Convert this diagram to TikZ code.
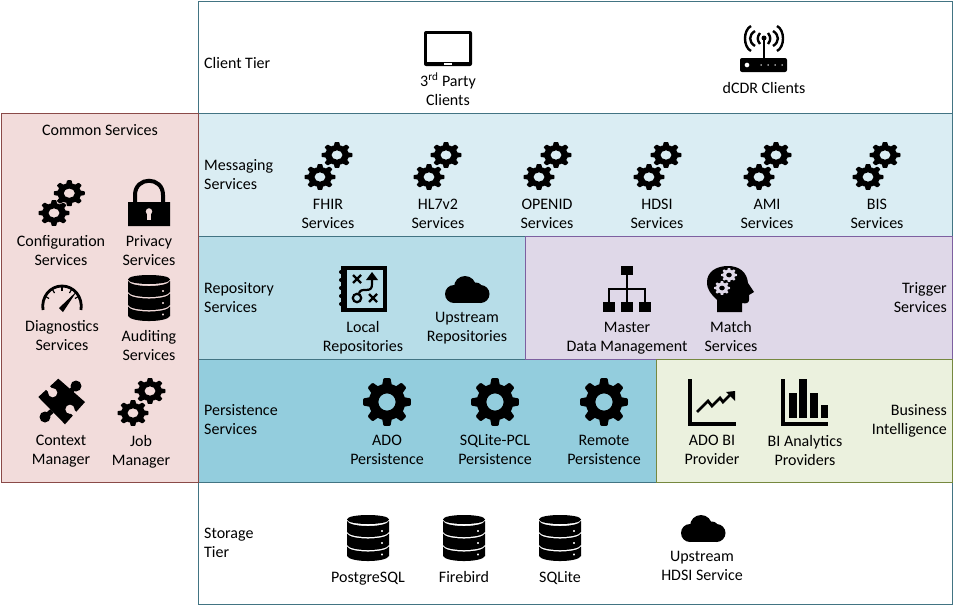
\documentclass[tikz,border=0pt]{standalone}
\usepackage{fontspec}
\setmainfont{Carlito}
\usepackage{tikz}
\definecolor{msgfill}{HTML}{DAEDF3}
\definecolor{repofill}{HTML}{B7DDE8}
\definecolor{persfill}{HTML}{93CDDD}
\definecolor{trigfill}{HTML}{DFD8E8}
\definecolor{bifill}{HTML}{EBF1DE}
\definecolor{commonfill}{HTML}{F2DCDB}
\definecolor{tieredge}{HTML}{427483}
\definecolor{trigedge}{HTML}{7D60A0}
\definecolor{biedge}{HTML}{76883F}
\definecolor{commonedge}{HTML}{8A4A48}
\tikzset{
    declare function={gearr(\a)=0.88+0.12*max(-1,min(1,2.5*cos(8*\a)));},
    gearicon/.pic = {
        \fill[even odd rule] plot[smooth, samples=121, domain=0:360] (\x:{gearr(\x)}) -- cycle (0,0) circle (0.36);
    },
    twogears/.pic = {
        \pic[xscale=15.5, yscale=13] at (0,0) {gearicon};
        \pic[xscale=15.5, yscale=13] at (17,-22) {gearicon};
    },
    cloudicon/.pic = {
        \fill (11,18) circle (9);
        \fill (22,11) circle (11);
        \fill (33,13) circle (6.5);
        \fill (37.5,18) circle (9);
        \fill (11,16) rectangle (37.5,27);
    },
    dbicon/.pic = {
        \fill (0,4.5) .. controls (0,-1.5) and (42,-1.5) .. (42,4.5) .. controls (42,10.5) and (0,10.5) .. (0,4.5);
        \fill[even odd rule] (0,6) .. controls (3,12.7) and (39,12.7) .. (42,6) -- (42,17) .. controls (39,23.7) and (3,23.7) .. (0,17) -- cycle (35,16) circle (1.4);
        \fill[even odd rule] (0,18.5) .. controls (3,25.2) and (39,25.2) .. (42,18.5) -- (42,30) .. controls (39,36.7) and (3,36.7) .. (0,30) -- cycle (35,28) circle (1.4);
        \fill[even odd rule] (0,31.5) .. controls (3,38.2) and (39,38.2) .. (42,31.5) -- (42,41) .. controls (39,47.7) and (3,47.7) .. (0,41) -- cycle (35,39.5) circle (1.4);
    }
}
\begin{document}
\begin{tikzpicture}[x=1pt, y=-1pt, font=\fontsize{16}{19}\selectfont,
    lbl/.style = {align=center, inner sep=0pt, yshift=-2.5pt, execute at begin node=\strut, execute at end node=\strut},
    side/.style = {lbl, align=left, anchor=west},
    sider/.style = {lbl, align=right, anchor=east},
    tier/.style = {draw=tieredge, line width=1pt}]
    \useasboundingbox (0,0) rectangle (956,605);
    \draw[tier, fill=white] (198,1) rectangle (952,113.5);
    \draw[tier, fill=msgfill] (198,113.5) rectangle (952,236);
    \draw[tier, fill=repofill] (198,236) rectangle (525,359);
    \draw[tier, fill=persfill] (198,359) rectangle (656,482);
    \draw[tier, fill=white] (198,482) rectangle (952,604);
    \draw[line width=1pt, draw=trigedge, fill=trigfill] (525,236) rectangle (952,359);
    \draw[line width=1pt, draw=biedge, fill=bifill] (656,359) rectangle (952,482);
    \draw[line width=1pt, draw=commonedge, fill=commonfill] (1,113.5) rectangle (198,482);
    \node[side] (client) at (204,62) {Client Tier};
    \node[side] (messaging) at (204,175) {Messaging\\Services};
    \node[side] (repository) at (204,298) {Repository\\Services};
    \node[side] (persistence) at (204,420) {Persistence\\Services};
    \node[side] (storage) at (204,543) {Storage\\Tier};
    \node[sider] (trigger) at (947,298) {Trigger\\Services};
    \node[sider] (business) at (947,420) {Business\\Intelligence};
    \node[lbl] (common) at (100,129) {Common Services};
    \node[lbl] (party) at (448,89.5) {3\textsuperscript{rd} Party\\Clients};
    \node[lbl] (dcdr) at (764,87) {dCDR Clients};
    \node[lbl] (fhir) at (328,214) {FHIR\\Services};
    \node[lbl] (hl7) at (438,214) {HL7v2\\Services};
    \node[lbl] (openid) at (547,214) {OPENID\\Services};
    \node[lbl] (hdsi) at (657,214) {HDSI\\Services};
    \node[lbl] (ami) at (767,214) {AMI\\Services};
    \node[lbl] (bis) at (877,214) {BIS\\Services};
    \node[lbl] (config) at (61,251) {Configuration\\Services};
    \node[lbl] (privacy) at (149,251) {Privacy\\Services};
    \node[lbl] (diag) at (62,336) {Diagnostics\\Services};
    \node[lbl] (audit) at (149,346) {Auditing\\Services};
    \node[lbl] (context) at (61,450) {Context\\Manager};
    \node[lbl] (job) at (141,451) {Job\\Manager};
    \node[lbl] (local) at (363,337) {Local\\Repositories};
    \node[lbl] (upstream) at (467,327) {Upstream\\Repositories};
    \node[lbl] (master) at (627,337) {Master\\Data Management};
    \node[lbl] (match) at (731,337) {Match\\Services};
    \node[lbl] (ado) at (387,450) {ADO\\Persistence};
    \node[lbl] (sqlitepcl) at (495,450) {SQLite-PCL\\Persistence};
    \node[lbl] (remote) at (604,450) {Remote\\Persistence};
    \node[lbl] (adobi) at (712,450) {ADO BI\\Provider};
    \node[lbl] (bian) at (805,451) {BI Analytics\\Providers};
    \node[lbl] (postgres) at (368,576.5) {PostgreSQL};
    \node[lbl] (firebird) at (464,576.5) {Firebird};
    \node[lbl] (sqlite) at (560,576.5) {SQLite};
    \node[lbl] (hdsisvc) at (702,566) {Upstream\\HDSI Service};
    \foreach \gx in {320,429,539,649,759,868}
        \pic at (\gx,177) {twogears};
    \pic[scale=0.9] at (54,213) {twogears};
    \pic at (133,413) {twogears};
    \foreach \gx in {387,495,604}
        \pic[scale=24] at (\gx,402) {gearicon};
    \pic at (128,275) {dbicon};
    \foreach \dx in {347,443,539}
        \pic at (\dx,515) {dbicon};
    \pic at (443,276) {cloudicon};
    \pic at (679,515) {cloudicon};
    \fill[rounded corners=2pt] (424,31) rectangle (472,66);
    \fill[white] (427,34) rectangle (469,62);
    \fill[white] (444,63) rectangle (452,65);
    \fill[even odd rule, rounded corners=2pt] (740,58) rectangle (787,72) (747,65) circle (2.5) (761,65) circle (1) (768,65) circle (1) (775,65) circle (1) (782,65) circle (1);
    \draw[line width=2.2pt] (764,38) -- (764,58);
    \fill (764,38) circle (2.5);
    \foreach \ax/\ay/\ad in {760/33/3, 755/31/6.5, 751/26/8} {
        \draw[line width=2.4pt] (\ax,\ay) .. controls ({\ax-\ad},{\ay+4}) and ({\ax-\ad},{73-\ay}) .. (\ax,{77-\ay});
        \draw[line width=2.4pt] ({1528-\ax},\ay) .. controls ({1528-\ax+\ad},{\ay+4}) and ({1528-\ax+\ad},{73-\ay}) .. ({1528-\ax},{77-\ay});
    }
    \fill[even odd rule] (128,202) rectangle (170,226) (149,211.5) circle (3.4);
    \fill[commonfill] (147.2,212) rectangle (150.8,220);
    \draw[line width=4pt] (135,202) -- (135,195) .. controls (135,176) and (163,176) .. (163,195) -- (163,202);
    \draw[line width=2.8pt] (43,310) .. controls (41,297) and (50,286) .. (62,286) .. controls (74,286) and (83,297) .. (81,310);
    \foreach \a in {30,60,90,120,150}
        \draw[line width=1.2pt, shift={(62,306)}] (-\a:15) -- (-\a:19);
    \fill (59,308) -- (77,291) -- (63,312) -- cycle;
    \fill (58.3,378.7) -- (85,402) -- (65,424.3) -- (38.3,397) -- cycle;
    \fill (76,386) circle (5.5);
    \fill (45,417) circle (5.5);
    \draw[line width=5pt] (76,386) -- (70,392);
    \draw[line width=5pt] (45,417) -- (52,411);
    \fill[commonfill] (52.7,392.7) circle (4.6);
    \draw[commonfill, line width=5pt] (52.7,392.7) -- (46,386);
    \fill[commonfill] (70,409.3) circle (4.6);
    \draw[commonfill, line width=5pt] (70,409.3) -- (77,416);
    \fill (341,266) rectangle (387,312);
    \fill[repofill] (347,270) rectangle (383,308);
    \foreach \sy in {272,280,288,296,304}
        \fill (341,\sy) circle (2);
    \draw[line width=2.4pt] (353,275) -- (361,283) (353,283) -- (361,275);
    \draw[line width=2.4pt] (369,294) -- (377,302) (369,302) -- (377,294);
    \draw[line width=2.2pt] (357,298) circle (4.2);
    \draw[line width=2.2pt] (359,293.5) .. controls (360,290) and (362,290) .. (366,290) .. controls (371,290) and (372,288) .. (372,284) -- (372,276);
    \fill (372,272) -- (378,280) -- (366,280) -- cycle;
    \fill (621,266) rectangle (633,275);
    \fill (603,302) rectangle (615,312);
    \fill (621,302) rectangle (633,312);
    \fill (639,302) rectangle (651,312);
    \draw[line width=1.6pt] (627,275) -- (627,302);
    \draw[line width=1.6pt] (609,302) -- (609,289) -- (645,289) -- (645,302);
    \fill (717,312) -- (717,300) .. controls (711,294) and (707,290) .. (707,282) .. controls (707,272) and (716,266) .. (728,266) .. controls (739,266) and (747,272) .. (748,283) -- (754,292) -- (749,295) -- (749,300) .. controls (749,303) and (746,304) .. (742,303) -- (742,312) -- cycle;
    \pic[xscale=8, yscale=7, fill=trigfill] at (729,275) {gearicon};
    \pic[xscale=8, yscale=7, fill=trigfill] at (722,288) {gearicon};
    \draw[line width=3.4pt] (690,379) -- (690,424) -- (736,424);
    \draw[line width=2.8pt] (697,412) -- (708,401) -- (712,406) -- (720,398) -- (723,402) -- (731,394);
    \fill (735,391) -- (735,401) -- (726,392) -- cycle;
    \draw[line width=3.4pt] (783,379) -- (783,424) -- (828,424);
    \fill (789,393) rectangle (797,418);
    \fill (799,379) rectangle (807,418);
    \fill (810,393) rectangle (818,418);
    \fill (821,405) rectangle (828,418);
\end{tikzpicture}
\end{document}
